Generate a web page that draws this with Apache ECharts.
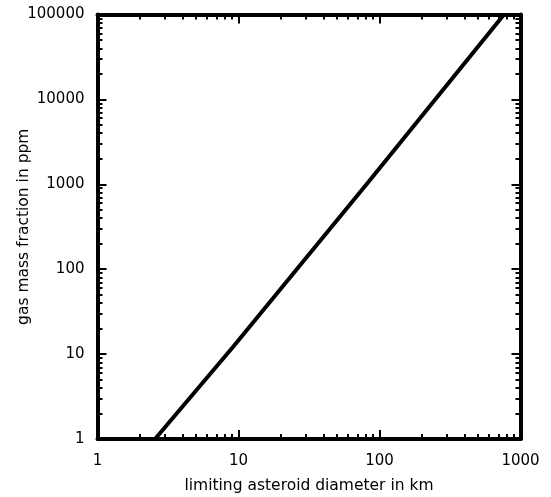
<!DOCTYPE html>
<html>
<head>
<meta charset="utf-8">
<script src="https://cdn.jsdelivr.net/npm/echarts@6/dist/echarts.min.js"></script>
<style>
  html, body { margin: 0; padding: 0; background: #fff; }
  #chart { width: 551px; height: 497px; }
</style>
</head>
<body>
<div id="chart"></div>
<script>
// Limiting asteroid diameter (km) vs. gas mass fraction (ppm)
const diameterKm = [2.56, 9.2, 84, 764];
const gasPpm = [1, 12.3, 1080, 100000];

const xMajor = [1, 10, 100, 1000];
const yMajor = [1, 10, 100, 1000, 10000, 100000];
const xMinor = [2, 3, 4, 5, 6, 7, 8, 9, 20, 30, 40, 50, 60, 70, 80, 90, 200, 300, 400, 500, 600, 700, 800, 900];
const yMinor = [];
[1, 10, 100, 1000, 10000].forEach(function (d) {
  for (let k = 2; k <= 9; k++) yMinor.push(d * k);
});

const FONT = 'DejaVu Sans';
const lineStyle = { color: '#000', width: 4 };

function makeAxis(kind, position, ticks, len, showLine, labels, extra) {
  const ax = {
    type: 'log',
    logBase: 10,
    min: 1,
    max: kind === 'x' ? 1000 : 100000,
    position: position,
    axisLine: { show: showLine, onZero: false, lineStyle: lineStyle },
    axisTick: { show: true, inside: true, length: len, customValues: ticks, lineStyle: { color: '#000', width: 2 } },
    axisLabel: labels
      ? {
          show: true, customValues: ticks, color: '#000', fontFamily: FONT, fontSize: 15,
          formatter: function (v) { return String(Math.round(v)); }
        }
      : { show: false },
    splitLine: { show: false },
    minorTick: { show: false }
  };
  return Object.assign(ax, extra || {});
}

const xAxes = [
  makeAxis('x', 'bottom', xMajor, 9, true, true, {
    name: 'limiting asteroid diameter in km',
    nameLocation: 'middle',
    nameGap: 39,
    nameMoveOverlap: false,
    nameTextStyle: { color: '#000', fontFamily: FONT, fontSize: 15.5 }
  }),
  makeAxis('x', 'bottom', xMinor, 5, false, false),
  makeAxis('x', 'top', xMajor, 9, true, false),
  makeAxis('x', 'top', xMinor, 5, false, false)
];
xAxes[0].axisLabel.margin = 15;

const yAxes = [
  makeAxis('y', 'left', yMajor, 9, true, true, {
    name: 'gas mass fraction in ppm',
    nameLocation: 'middle',
    nameGap: 66,
    nameMoveOverlap: false,
    nameTextStyle: { color: '#000', fontFamily: FONT, fontSize: 15.5 }
  }),
  makeAxis('y', 'left', yMinor, 5, false, false),
  makeAxis('y', 'right', yMajor, 9, true, false),
  makeAxis('y', 'right', yMinor, 5, false, false)
];
yAxes[0].axisLabel.margin = 13;

const chart = echarts.init(document.getElementById('chart'), null, { renderer: 'canvas' });
chart.setOption({
  animation: false,
  backgroundColor: '#fff',
  grid: {
    left: 97.5, right: 30.5, top: 14.5, bottom: 58,
    containLabel: false,
    outerBoundsMode: 'none'
  },
  xAxis: xAxes,
  yAxis: yAxes,
  series: [{
    type: 'line',
    xAxisIndex: 0,
    yAxisIndex: 0,
    data: diameterKm.map(function (d, i) { return [d, gasPpm[i]]; }),
    showSymbol: false,
    symbol: 'none',
    clip: true,
    lineStyle: { color: '#000', width: 4 },
    z: 1
  }]
});
</script>
</body>
</html>
